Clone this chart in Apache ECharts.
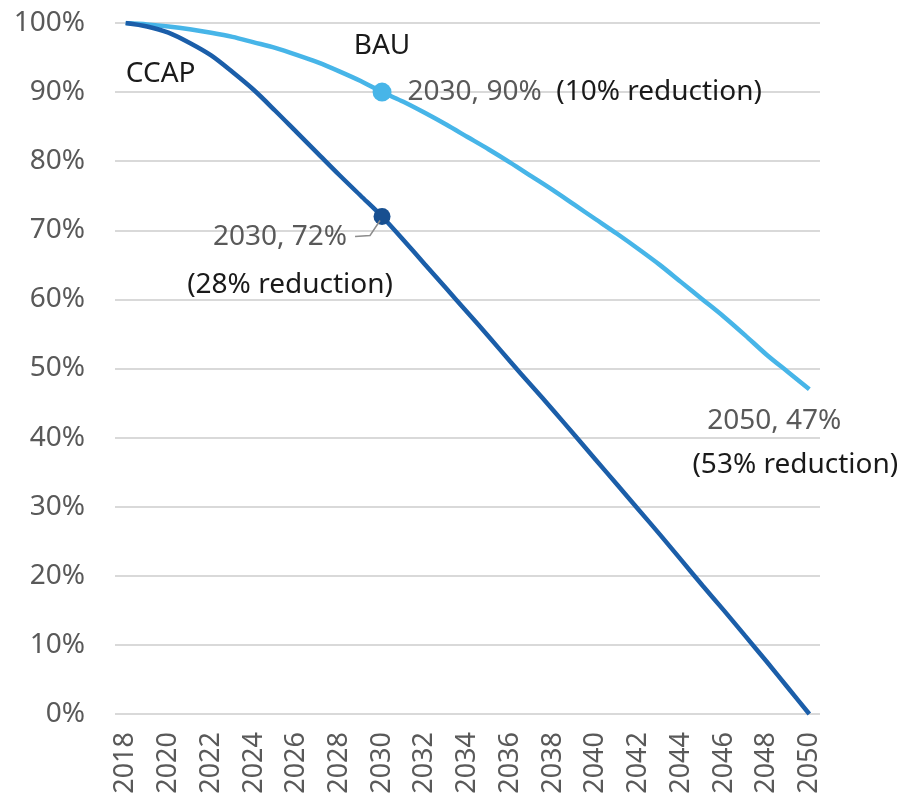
<!DOCTYPE html>
<html>
<head>
<meta charset="utf-8">
<script src="https://cdn.jsdelivr.net/npm/echarts@6/dist/echarts.min.js"></script>
<style>html,body{margin:0;padding:0;background:#fff}#c{width:905px;height:799px}</style>
</head>
<body>
<div id="c"></div>
<script>
var years = ['2018','2019','2020','2021','2022','2023','2024','2025','2026','2027','2028','2029','2030','2031','2032','2033','2034','2035','2036','2037','2038','2039','2040','2041','2042','2043','2044','2045','2046','2047','2048','2049','2050'];
var bau = [100,99.8,99.5,99.1,98.6,98.0,97.2,96.4,95.4,94.3,93.0,91.6,90.0,88.6,87.0,85.3,83.5,81.7,79.8,77.8,75.8,73.7,71.6,69.5,67.3,65.0,62.5,60.0,57.5,54.8,52.0,49.5,47.0];
var ccap = [100,99.5,98.6,97.1,95.3,92.9,90.3,87.3,84.2,81.1,78.0,75.0,72.0,68.6,65.1,61.6,58.1,54.6,51.0,47.5,44.0,40.4,36.8,33.2,29.6,26.0,22.3,18.6,15.0,11.3,7.6,3.8,0];
var yTicks = {min: 0, max: 100, step: 10};
var seriesNames = ['BAU', 'CCAP'];
var notes = {
  bau2030: ['2030, 90%', '(10% reduction)'],
  ccap2030: ['2030, 72%', '(28% reduction)'],
  bau2050: ['2050, 47%', '(53% reduction)']
};

var FONT = 'Noto Sans';
var BAU_C = '#47b5e8';
var CCAP_C = '#1b5ea9';
var GRAY = '#595959';
var DARK = '#1a1a1a';

function txt(coord, text, color, align, offset) {
  return {
    coord: coord, symbolSize: 0,
    label: {show: true, position: 'inside', formatter: text, color: color,
      fontFamily: FONT, fontSize: 28, align: align, verticalAlign: 'middle', offset: offset}
  };
}

var chart = echarts.init(document.getElementById('c'));
var option = {
  backgroundColor: '#fff',
  animation: false,
  grid: {left: 115, right: 85, top: 23, bottom: 85},
  xAxis: {
    type: 'category', data: years, boundaryGap: true,
    axisLine: {show: false}, axisTick: {show: false},
    axisLabel: {interval: 1, rotate: 90, color: GRAY, fontFamily: FONT, fontSize: 27, margin: 18}
  },
  yAxis: {
    type: 'value', min: yTicks.min, max: yTicks.max, interval: yTicks.step,
    axisLine: {show: false}, axisTick: {show: false},
    axisLabel: {formatter: '{value}%', color: GRAY, fontFamily: FONT, fontSize: 28, margin: 30},
    splitLine: {lineStyle: {color: '#d9d9d9', width: 2}}
  },
  series: [
    {
      name: seriesNames[0], type: 'line', data: bau, smooth: 0.3, showSymbol: false,
      lineStyle: {color: BAU_C, width: 4.5}, itemStyle: {color: BAU_C}, z: 3,
      markPoint: {
        symbol: 'circle', silent: true,
        data: [
          {coord: ['2030', bau[12]], symbolSize: 19, itemStyle: {color: BAU_C},
           label: {show: true, position: 'right', distance: 16, fontFamily: FONT, fontSize: 28,
             formatter: '{a|' + notes.bau2030[0] + '}  {b|' + notes.bau2030[1] + '}',
             rich: {a: {color: GRAY, fontFamily: FONT, fontSize: 28}, b: {color: DARK, fontFamily: FONT, fontSize: 28}}}},
          txt(['2030', bau[12]], seriesNames[0], DARK, 'center', [0, -46]),
          txt(['2050', bau[32]], notes.bau2050[0], GRAY, 'center', [-35, 32]),
          txt(['2050', bau[32]], notes.bau2050[1], DARK, 'center', [-14, 76])
        ]
      }
    },
    {
      name: seriesNames[1], type: 'line', data: ccap, smooth: 0.3, showSymbol: false,
      lineStyle: {color: CCAP_C, width: 4.5}, itemStyle: {color: CCAP_C}, z: 4,
      markPoint: {
        symbol: 'circle', silent: true,
        data: [
          {coord: ['2030', ccap[12]], symbolSize: 17, itemStyle: {color: '#174f90'}, label: {show: false}},
          txt(['2030', ccap[12]], notes.ccap2030[0], GRAY, 'right', [-35, 21]),
          txt(['2030', ccap[12]], notes.ccap2030[1], DARK, 'center', [-92, 69]),
          txt(['2018', ccap[0]], seriesNames[1], DARK, 'center', [35, 51])
        ]
      }
    }
  ]
};
chart.setOption(option);

// leader line for the CCAP 2030 note, anchored to the data point
var p = chart.convertToPixel({seriesIndex: 1}, ['2030', ccap[12]]);
chart.setOption({
  graphic: [{
    type: 'polyline', silent: true, z: 10,
    shape: {points: [[p[0] - 27, p[1] + 20], [p[0] - 12, p[1] + 19], [p[0] - 2, p[1] + 4]]},
    style: {stroke: '#8c8c8c', lineWidth: 1.5, fill: null}
  }]
});
</script>
</body>
</html>
